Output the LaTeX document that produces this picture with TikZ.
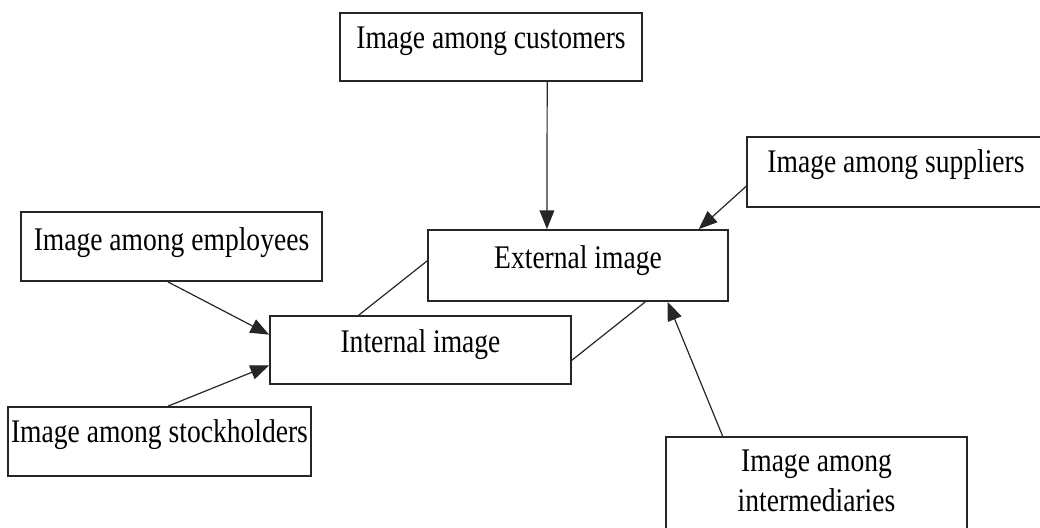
\documentclass[tikz,border=0pt]{standalone}
\usepackage{fontspec}
\setmainfont{Liberation Serif}[FakeStretch=0.835]
\usetikzlibrary{arrows.meta,calc}
\begin{document}
\begin{tikzpicture}[x=0.75pt,y=-0.75pt,
  box/.style={draw=black!85,line width=1.3pt,inner sep=0pt,rectangle},
  lbl/.style={anchor=base,inner sep=0pt,font=\fontsize{24.75}{30}\selectfont,align=center},
  arr/.style={draw=black!85,line width=0.9pt,-{Triangle[length=14pt,width=11pt]}},
  ln/.style={draw=black!85,line width=0.9pt}]
\useasboundingbox (0,0) rectangle (1040,528);
\clip (0,0) rectangle (1040,528);
% boxes
\node[box,minimum width=226.5pt,minimum height=51pt] (cust) at (491,47) {};
\node[box,minimum width=223.5pt,minimum height=52.5pt] (sup) at (896,172) {};
\node[box,minimum width=225.75pt,minimum height=51.75pt] (emp) at (171.5,246.5) {};
\node[box,minimum width=225pt,minimum height=53.25pt] (ext) at (578,265.5) {};
\node[box,minimum width=225.75pt,minimum height=51pt] (int) at (420.5,350) {};
\node[box,minimum width=227.25pt,minimum height=51.75pt] (stock) at (159.5,441.5) {};
\node[box,minimum width=225.75pt,minimum height=81pt] (inter) at (816.5,491) {};
% labels
\node[lbl] (custT) at (491,49) {Image among customers};
\node[lbl] (supT) at (896,172) {Image among suppliers};
\node[lbl] (empT) at (171.5,250) {Image among employees};
\node[lbl] (extT) at (578,268) {External image};
\node[lbl] (intT) at (420.5,352) {Internal image};
\node[lbl] (stockT) at (159.5,442) {Image among stockholders};
\node[lbl] (interT1) at (816.5,471) {Image among};
\node[lbl] (interT2) at (816.5,511) {intermediaries};
% connectors
\draw[arr] ($(cust.south west)!0.685!(cust.south east)$) -- ($(ext.north west)!0.397!(ext.north east)$);
\draw[arr] ($(sup.north west)!0.7!(sup.south west)$) -- ($(ext.north west)!0.9!(ext.north east)$);
\draw[arr] ($(emp.south west)!0.488!(emp.south east)$) -- ($(int.north west)!0.28!(int.south west)$);
\draw[arr] ($(stock.north west)!0.528!(stock.north east)$) -- ($(int.north west)!0.72!(int.south west)$);
\draw[arr] ($(inter.north west)!0.19!(inter.north east)$) -- ($(ext.south west)!0.797!(ext.south east)$);
\draw[ln] ($(ext.north west)!0.437!(ext.south west)$) -- ($(int.north west)!0.296!(int.north east)$);
\draw[ln] ($(ext.south west)!0.723!(ext.south east)$) -- ($(int.north east)!0.647!(int.south east)$);
\end{tikzpicture}
\end{document}
